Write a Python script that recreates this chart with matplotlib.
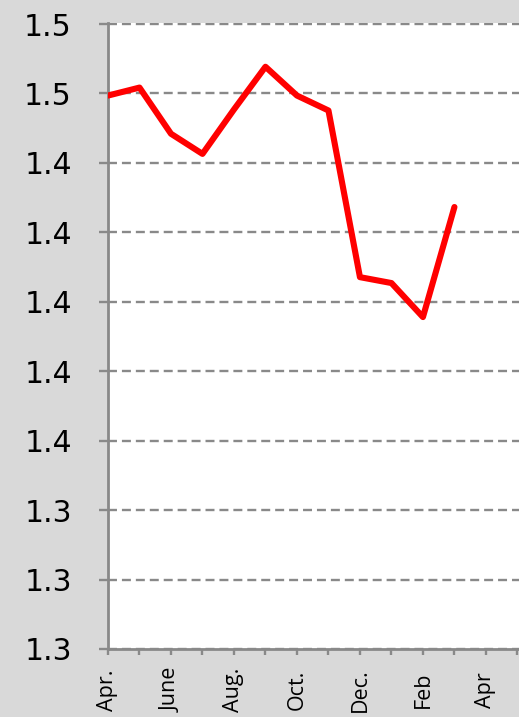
import matplotlib.pyplot as plt

# monthly values, April to March
months = ['Apr.', 'May', 'June', 'July', 'Aug.', 'Sep.', 'Oct.', 'Nov.',
          'Dec.', 'Jan.', 'Feb', 'Mar.']
values = [1.4594, 1.4617, 1.4484, 1.4426, 1.4554, 1.4677, 1.4594, 1.4551,
          1.4071, 1.4054, 1.3956, 1.4273]

# x labels on every other month (the last one is next April)
x_label_pos = [0, 2, 4, 6, 8, 10, 12]
x_labels = ['Apr.', 'June', 'Aug.', 'Oct.', 'Dec.', 'Feb', 'Apr']

y_ticks = [1.30, 1.32, 1.34, 1.36, 1.38, 1.40, 1.42, 1.44, 1.46, 1.48]
y_tick_labels = ['1.3', '1.3', '1.3', '1.4', '1.4', '1.4', '1.4', '1.4', '1.5', '1.5']

bg = '#d9d9d9'
axis_gray = '#898989'

fig = plt.figure(figsize=(5.19, 7.17), dpi=100, facecolor=bg)
ax = fig.add_axes([108 / 519, 1 - 649 / 717, 411 / 519, (649 - 23) / 717])
ax.set_facecolor('white')

ax.plot(range(len(values)), values, color='#ff0000', linewidth=4.4,
        solid_joinstyle='round', solid_capstyle='round', zorder=3)

ax.set_xlim(0, 13.05)
ax.set_ylim(1.30, 1.4803)

ax.set_yticks(y_ticks)
ax.set_yticklabels(y_tick_labels)
ax.set_xticks(x_label_pos)
ax.set_xticks(range(14), minor=True)
ax.set_xticklabels(x_labels, rotation=90, va='center', ha='center',
                   family='Open Sans')

ax.yaxis.grid(True, color=axis_gray, linewidth=1.7, dashes=(3.8, 2.1))
ax.set_axisbelow(True)

for s in ['top', 'right']:
    ax.spines[s].set_visible(False)
for s in ['left', 'bottom']:
    ax.spines[s].set_color(axis_gray)
    ax.spines[s].set_linewidth(2.0)

ax.tick_params(axis='y', length=6.5, width=1.7, color=axis_gray, pad=19.5,
               labelsize=21.5, labelcolor='black')
ax.tick_params(axis='x', which='both', length=4.5, width=1.7, color=axis_gray)
ax.tick_params(axis='x', which='major', pad=25, labelsize=15.5, labelcolor='black')

fig.savefig('out.png', dpi=100, facecolor=bg)
